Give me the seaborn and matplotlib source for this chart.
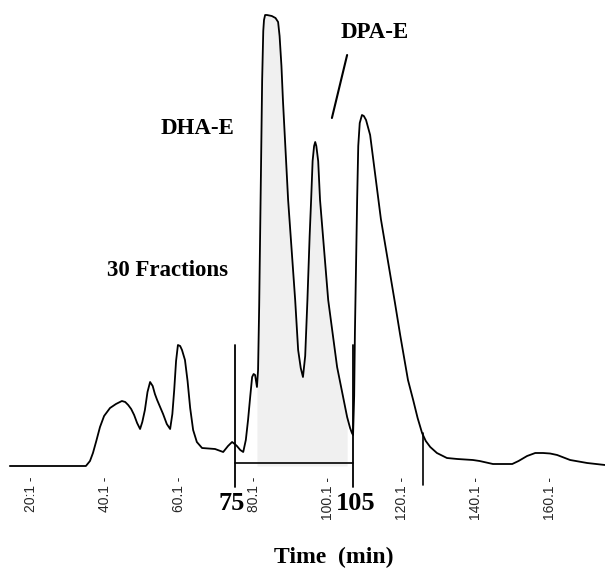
import numpy as np
import pandas as pd
import matplotlib
matplotlib.use("Agg")
import matplotlib.pyplot as plt
import seaborn as sns

# ---- data (time in min, detector signal arbitrary units)
time_min = [14.4, 34.9, 36.0, 36.8, 37.7, 38.7, 39.8, 41.4, 43.0, 44.6, 45.5, 46.3,
            47.1, 47.9, 48.7, 49.5, 50.1, 50.8, 51.5, 52.2, 52.9, 53.5, 54.1, 55.7,
            56.7, 57.6, 58.2, 58.7, 59.2, 59.7, 60.3, 60.8, 61.6, 62.3, 63.0, 63.8,
            64.8, 66.2, 69.7, 71.9, 73.2, 74.3, 75.0, 75.6, 76.5, 77.3, 78.0, 78.6,
            79.2, 79.7, 80.1, 80.5, 81.0, 81.3, 81.6, 81.8, 82.1, 82.4, 82.7, 82.9,
            83.2, 83.7, 85.0, 86.0, 86.7, 87.1, 87.6, 88.0, 89.4, 91.3, 92.1, 92.8,
            93.4, 94.0, 94.6, 95.2, 95.6, 96.0, 96.4, 96.7, 97.0, 97.5, 98.0, 100.2,
            102.6, 105.3, 106.1, 106.6, 106.9, 107.2, 107.4, 108.0, 108.3, 108.7,
            109.3, 109.8, 110.4, 111.5, 114.4, 118.2, 119.6, 121.7, 123.1, 124.3,
            125.5, 126.5, 127.7, 129.5, 132.2, 135.0, 139.2, 141.0, 144.6, 149.8,
            151.5, 153.8, 156.0, 158.1, 160.0, 161.9, 165.4, 170.0, 174.8]
signal = [0, 0, 5, 13, 25, 39, 50, 58, 62, 65, 64, 61,
          57, 51, 43, 37, 44, 56, 74, 84, 80, 72, 66, 52,
          42, 37, 52, 76, 105, 121, 120, 116, 106, 85, 58, 36,
          24, 18, 17, 14, 20, 24, 22, 20, 16, 14, 26, 46,
          70, 89, 92, 91, 79, 96, 160, 216, 300, 386, 435, 446,
          451, 451, 450, 448, 444, 430, 400, 366, 266, 166, 116, 98,
          89, 110, 166, 230, 266, 305, 320, 324, 320, 305, 266, 166,
          99, 49, 38, 33, 31, 70, 133, 266, 320, 343,
          351, 350, 346, 331, 247, 163, 131, 86, 66, 48,
          33, 25, 19, 13, 8, 7, 6, 5, 2, 2,
          5, 10, 13, 13, 12.5, 11, 6, 3, 1]

tick_pos = [20.1, 40.1, 60.1, 80.1, 100.1, 120.1, 140.1, 160.1]
tick_labels = ["20:1 -", "40.1 -", "60.1 -", "80.1 -", "100.1 -", "120.1 -", "140.1 -", "160.1 -"]

fraction_start, fraction_end = 75.1, 106.9
fraction_labels = ["75", "105"]
end_marker = 125.8

df = pd.DataFrame({"time": time_min, "signal": signal})

sns.set_theme(style="white")
plt.rcParams["font.family"] = ["Liberation Sans", "DejaVu Sans"]

fig = plt.figure(figsize=(6.05, 5.70), dpi=100)
ax = fig.add_axes([0, 93 / 570, 1, 477 / 570])

# shaded collected region
sub = df[(df.time >= 81.0) & (df.time <= 105.3)]
ax.fill_between(sub.time, 0, sub.signal, color="#f0f0f0", lw=0, zorder=1)

sns.lineplot(data=df, x="time", y="signal", sort=False, estimator=None,
             color="black", lw=1.3, ax=ax, zorder=3)

ax.set_xlim(11.75, 174.8)
ax.set_ylim(-11, 466)

# fraction markers
for xv in (fraction_start, fraction_end):
    ax.plot([xv, xv], [121, -21], color="black", lw=1.3, clip_on=False, zorder=4)
ax.plot([fraction_start, fraction_end], [3, 3], color="black", lw=1.2, clip_on=False, zorder=4)
ax.plot([end_marker, end_marker], [33, -19], color="black", lw=1.2, clip_on=False, zorder=4)

# DPA-E pointer
ax.plot([105.3, 101.2], [411, 348], color="black", lw=1.5, zorder=4)

serif = dict(family=["Liberation Serif", "DejaVu Serif"], fontweight="bold", color="black")
ax.text(65.1, 338, "DHA-E", ha="center", va="center", fontsize=16.5, **serif)
ax.text(57.0, 195, "30 Fractions", ha="center", va="center", fontsize=16.5, **serif)
ax.text(112.8, 434, "DPA-E", ha="center", va="center", fontsize=16.5, **serif)
ax.text(fraction_start - 0.8, -38, fraction_labels[0], ha="center", va="center", fontsize=19, **serif)
ax.text(fraction_end + 0.8, -38, fraction_labels[1], ha="center", va="center", fontsize=19, **serif)
ax.text(101.8, -91, "Time  (min)", ha="center", va="center", fontsize=17, **serif)

ax.set_xticks(tick_pos)
ax.set_xticklabels(tick_labels, rotation=90, fontsize=10, va="top", ha="center")
ax.tick_params(axis="x", length=0, pad=0)
ax.set_yticks([])
ax.set_xlabel("")
ax.set_ylabel("")
for s in ax.spines.values():
    s.set_visible(False)

fig.savefig("out.png", dpi=100, facecolor="white")
